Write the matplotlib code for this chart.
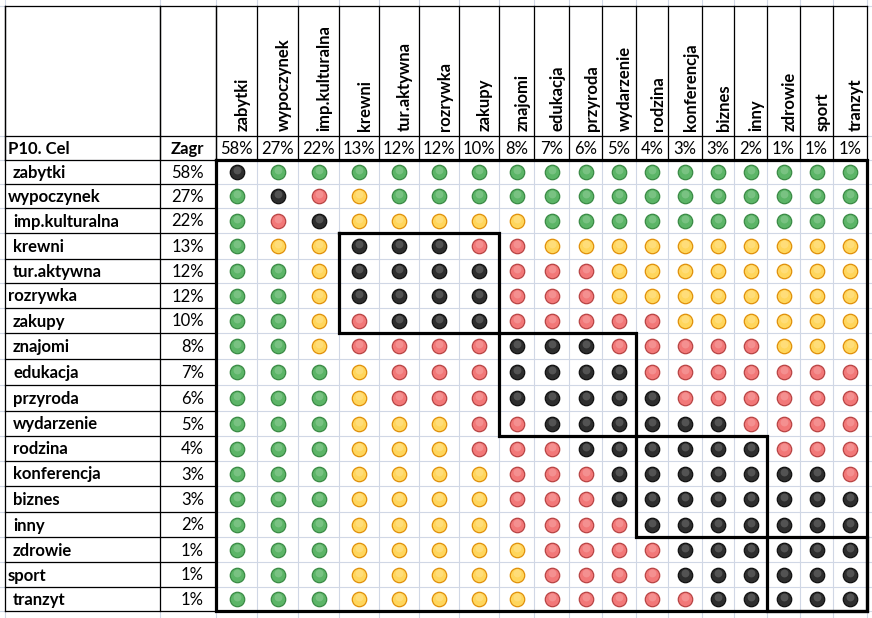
import matplotlib
matplotlib.use('Agg')
import matplotlib.pyplot as plt

############################# Data #############################

categories = ['zabytki', 'wypoczynek', 'imp.kulturalna', 'krewni', 'tur.aktywna',
              'rozrywka', 'zakupy', 'znajomi', 'edukacja', 'przyroda', 'wydarzenie',
              'rodzina', 'konferencja', 'biznes', 'inny', 'zdrowie', 'sport', 'tranzyt']
shares = ['58%', '27%', '22%', '13%', '12%', '12%', '10%', '8%', '7%', '6%', '5%',
          '4%', '3%', '3%', '2%', '1%', '1%', '1%']
# row labels as typed in the sheet (some with a leading space)
row_labels = [' zabytki', 'wypoczynek', ' imp.kulturalna', ' krewni', ' tur.aktywna',
              'rozrywka', ' zakupy', ' znajomi', ' edukacja', ' przyroda', ' wydarzenie',
              ' rodzina', ' konferencja', ' biznes', ' inny', ' zdrowie', 'sport', ' tranzyt']

# K = black, G = green, Y = yellow, R = red
icons = [
    'KGGGGGGGGGGGGGGGGG',
    'GKRYGGGGGGGGGGGGGG',
    'GRKYYYYYGGGGGGGGGG',
    'GYYKKKRRYYYYYYYYYY',
    'GGYKKKKRRRYYYYYYYY',
    'GGYKKKKRRRYYYYYYYY',
    'GGYRKKKRRRRRYYYYYY',
    'GGYRRRRKKKRRRRRYYY',
    'GGGYRRRKKKKRRRRRRR',
    'GGGYRRRKKKKKRRRRRR',
    'GGGYYYRRKKKKKKRRRR',
    'GGGYYYRRRKKKKKKRRR',
    'GGGYYYYRRRKKKKKKKR',
    'GGGYYYYRRRKKKKKKKK',
    'GGGYYYYRRRRKKKKKKK',
    'GGGYYYYYRRRRKKKKKK',
    'GGGYYYYYRRRRKKKKKK',
    'GGGYYYYYRRRRRKKKKK',
]

# clusters outlined with thick frames (first, last+1 index)
clusters = [(3, 7), (7, 11), (11, 15), (15, 18)]

############################# Layout (pixels) #############################

W, H = 872, 618
col_x = [5, 160, 216, 257, 298, 339, 379, 419, 459, 499, 534, 569, 602, 636,
         668, 702, 734, 767, 800, 833, 867]
row_y = [6, 136, 160, 184, 208, 233, 259, 283, 308, 333, 359, 385, 411, 436,
         461, 486, 512, 537, 562, 587, 611]

fill = {'K': '#2e2e2e', 'G': '#5cb567', 'Y': '#ffd65c', 'R': '#f27878'}
edge = {'K': '#111111', 'G': '#3a8a45', 'Y': '#e0900a', 'R': '#b84444'}
grid_c = '#d0d7e5'
fs = 12

plt.rcParams['font.family'] = ['Lato', 'DejaVu Sans']
fig = plt.figure(figsize=(W / 100, H / 100), dpi=100)
ax = fig.add_axes([0, 0, 1, 1])
ax.set_xlim(0, W)
ax.set_ylim(H, 0)
ax.axis('off')

data_x = col_x[2:]
data_y = row_y[2:]
cx = [(data_x[i] + data_x[i + 1]) / 2 for i in range(len(categories))]
cy = [(data_y[i] + data_y[i + 1]) / 2 for i in range(len(categories))]

# excel gridlines in the background
for x in col_x:
    ax.plot([x, x], [0, H], color=grid_c, lw=0.8, zorder=0)
for y in row_y:
    ax.plot([0, W], [y, y], color=grid_c, lw=0.8, zorder=0)

# thin black borders: header block and label columns
ax.plot([col_x[0], col_x[-1]], [row_y[0], row_y[0]], color='black', lw=0.9, zorder=2)
ax.plot([col_x[0], col_x[-1]], [row_y[1], row_y[1]], color='black', lw=0.9, zorder=2)
for x in col_x:
    ax.plot([x, x], [row_y[0], row_y[2]], color='black', lw=0.9, zorder=2)
for x in col_x[:3]:
    ax.plot([x, x], [row_y[0], row_y[-1]], color='black', lw=0.9, zorder=2)
for y in row_y[2:]:
    ax.plot([col_x[0], col_x[2]], [y, y], color='black', lw=0.9, zorder=2)

# thick frames
def frame(x0, x1, y0, y1):
    ax.plot([x0, x1, x1, x0, x0], [y0, y0, y1, y1, y0], color='black', lw=2.3,
            solid_joinstyle='miter', zorder=3)

frame(data_x[0], data_x[-1], data_y[0], data_y[-1])
for a, b in clusters:
    frame(data_x[a], data_x[b], data_y[a], data_y[b])

# header texts
for i, name in enumerate(categories):
    ax.text(cx[i] + 6, 131, name, rotation=90, ha='center', va='bottom',
            fontsize=fs, fontweight='bold')
    ax.text(cx[i], (row_y[1] + row_y[2]) / 2 + 1, shares[i], ha='center', va='center',
            fontsize=fs)
ax.text(8, (row_y[1] + row_y[2]) / 2 + 1, 'P10. Cel', ha='left', va='center',
        fontsize=fs, fontweight='bold')
ax.text(204, (row_y[1] + row_y[2]) / 2 + 1, 'Zagr', ha='right', va='center',
        fontsize=fs, fontweight='bold')

for j, lab in enumerate(row_labels):
    x0 = 13 if lab.startswith(' ') else 8
    ax.text(x0, cy[j] + 1, lab.strip(), ha='left', va='center', fontsize=fs,
            fontweight='bold')
    ax.text(204, cy[j] + 1, shares[j], ha='right', va='center', fontsize=fs)

# icons
for code in 'KGYR':
    xs, ys = [], []
    for j, row in enumerate(icons):
        for i, c in enumerate(row):
            if c == code:
                xs.append(cx[i])
                ys.append(cy[j])
    ax.scatter(xs, ys, s=108, color=fill[code], edgecolors=edge[code],
               linewidths=0.9, zorder=4)
    # soft highlight on the upper part, like the excel icon gradient
    ax.scatter(xs, [y - 2 for y in ys], s=32, color='white', alpha=0.18,
               linewidths=0, zorder=5)

fig.savefig('out.png', dpi=100)
